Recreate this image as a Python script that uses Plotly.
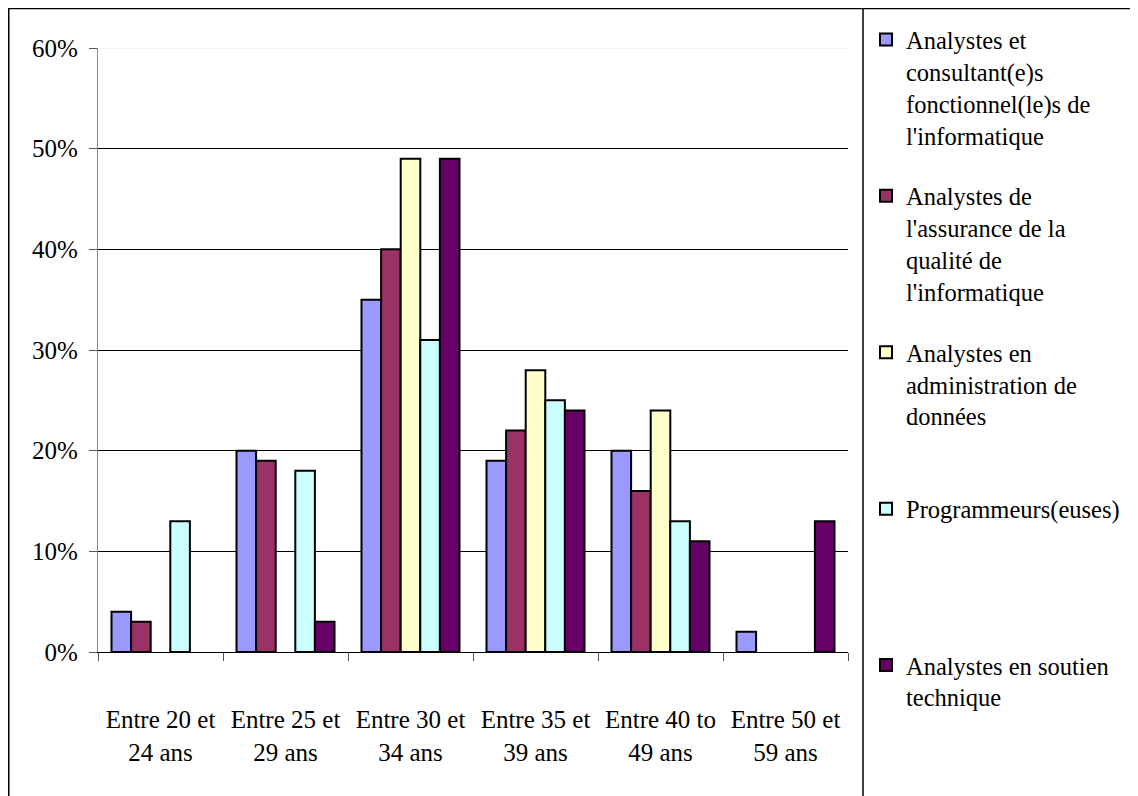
import plotly.graph_objects as go

categories = ["Entre 20 et<br>24 ans", "Entre 25 et<br>29 ans", "Entre 30 et<br>34 ans",
              "Entre 35 et<br>39 ans", "Entre 40 to<br>49 ans", "Entre 50 et<br>59 ans"]
series_names = [
    "Analystes et<br>consultant(e)s<br>fonctionnel(le)s de<br>l'informatique",
    "Analystes de<br>l'assurance de la<br>qualité de<br>l'informatique",
    "Analystes en<br>administration de<br>données",
    "Programmeurs(euses)",
    "Analystes en soutien<br>technique",
]
analystes_consultants = [0.04, 0.20, 0.35, 0.19, 0.20, 0.02]
analystes_assurance = [0.03, 0.19, 0.40, 0.22, 0.16, 0.0]
analystes_donnees = [0.0, 0.0, 0.49, 0.28, 0.24, 0.0]
programmeurs = [0.13, 0.18, 0.31, 0.25, 0.13, 0.0]
analystes_soutien = [0.0, 0.03, 0.49, 0.24, 0.11, 0.13]
series_values = [analystes_consultants, analystes_assurance, analystes_donnees,
                 programmeurs, analystes_soutien]
colors = ["#9999FF", "#993366", "#FFFFCC", "#CCFFFF", "#660066"]
y_ticks = [0, 0.1, 0.2, 0.3, 0.4, 0.5, 0.6]

FONT = "Liberation Serif"

fig = go.Figure()
for i, (name, vals, col) in enumerate(zip(series_names, series_values, colors)):
    n_lines = name.count("<br>") + 1
    pad = 0 if i == len(series_names) - 1 else max(0, 4 - n_lines)
    label = name + "<br> " * pad
    fig.add_trace(go.Bar(
        x=categories, y=[v if v else None for v in vals], name=label,
        legendgroup=f"g{i}",
        marker=dict(color=col, line=dict(color="#000000", width=2)),
    ))

# page is offset by the 8px body margin
W, H = 1130, 788
L, R, T, B = 90, 840, 40, 644
pw, ph = R - L, B - T

def px(xp):
    return (xp - L) / pw

def py(yp):
    return (B - yp) / ph

shapes = [
    dict(type="line", xref="paper", yref="paper", x0=px(0), x1=px(1140), y0=py(0.5), y1=py(0.5),
         line=dict(color="black", width=1.5)),
    dict(type="line", xref="paper", yref="paper", x0=px(0.75), x1=px(0.75), y0=py(0), y1=py(800),
         line=dict(color="black", width=1.5)),
    dict(type="line", xref="paper", yref="paper", x0=px(855), x1=px(855), y0=py(0), y1=py(800),
         line=dict(color="black", width=1.5)),
    dict(type="line", xref="paper", yref="y", x0=0, x1=1, y0=y_ticks[-1], y1=y_ticks[-1],
         line=dict(color="#e6e6e6", width=1.2)),
]

fig.update_layout(
    width=W, height=H,
    margin=dict(l=L, r=W - R, t=T, b=H - B, pad=0, autoexpand=False),
    paper_bgcolor="white", plot_bgcolor="white",
    barmode="group", bargap=0.216, bargroupgap=0,
    font=dict(family=FONT, size=24, color="black"),
    showlegend=True,
    legend=dict(x=px(858), y=py(9), xanchor="left", yanchor="top",
                font=dict(family=FONT, size=24.5, color="black"),
                valign="top", traceorder="grouped", tracegroupgap=26,
                bgcolor="rgba(0,0,0,0)", itemclick=False, maxheight=780),
    shapes=shapes,
    xaxis=dict(
        type="category", showgrid=False, showline=True, linecolor="black", linewidth=1.2,
        ticks="outside", tickson="boundaries", ticklen=8, tickcolor="#555555", tickwidth=1.2,
        tickfont=dict(family=FONT, size=25, color="black"), ticklabelstandoff=45,
        zeroline=False,
    ),
    yaxis=dict(
        range=[0, 0.6], tickvals=y_ticks, tickformat=".0%",
        showgrid=True, gridcolor="black", gridwidth=1,
        showline=True, linecolor="#888888", linewidth=1.2,
        ticks="outside", ticklen=8, tickcolor="#555555", tickwidth=1.2,
        tickfont=dict(family=FONT, size=25, color="black"), ticklabelstandoff=6,
        zeroline=False,
    ),
)

fig.write_html("out.html")
